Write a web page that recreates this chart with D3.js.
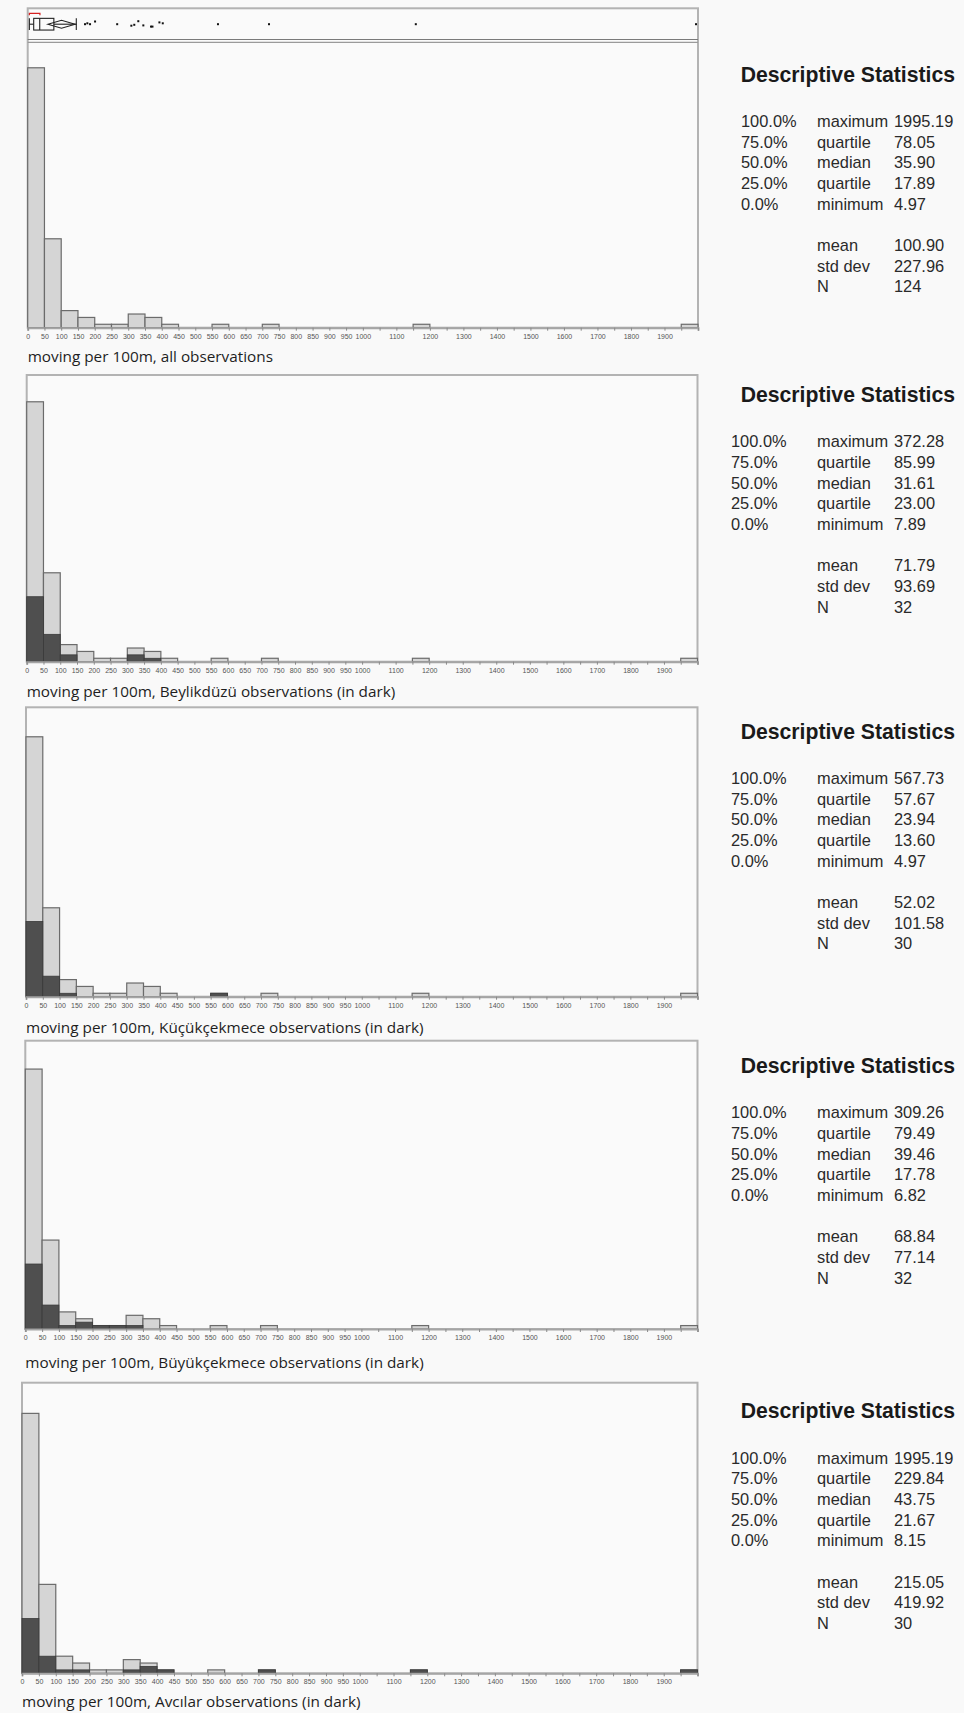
<!DOCTYPE html>
<html>
<head>
<meta charset="utf-8">
<script src="https://cdn.jsdelivr.net/npm/d3@7"></script>
<style>
  body { margin: 0; background: #f9f9f9; }
  svg { display: block; }
</style>
</head>
<body>
<svg id="chart"></svg>
<script>
// histogram bins (lower edge, width 50) that hold any observation
const binStart = [0, 50, 100, 150, 200, 250, 300, 350, 400, 550, 700, 1150, 1950]
const binWidth = 50
const allCounts = [76, 26, 5, 3, 1, 1, 4, 3, 1, 1, 1, 1, 1]
const beylikduzuCounts = [19, 8, 2, 0, 0, 0, 2, 1, 0, 0, 0, 0, 0]
const kucukcekmeceCounts = [22, 6, 1, 0, 0, 0, 0, 0, 0, 1, 0, 0, 0]
const buyukcekmeceCounts = [19, 7, 1, 2, 1, 1, 1, 0, 0, 0, 0, 0, 0]
const avcilarCounts = [16, 5, 1, 1, 0, 0, 1, 2, 1, 0, 1, 1, 1]

// axis ticks
const tickMarks = [0, 50, 100, 150, 200, 250, 300, 350, 400, 450, 500, 550, 600, 650, 700, 750, 800, 850, 900, 950,
  1000, 1050, 1100, 1150, 1200, 1250, 1300, 1350, 1400, 1450, 1500, 1550, 1600, 1650, 1700, 1750, 1800, 1850, 1900, 1950, 2000]
const tickLabels = [0, 50, 100, 150, 200, 250, 300, 350, 400, 450, 500, 550, 600, 650, 700, 750, 800, 850, 900, 950,
  1000, 1100, 1200, 1300, 1400, 1500, 1600, 1700, 1800, 1900]

// outlier box plot, all observations
const boxMin = 4.97, boxQ1 = 17.89, boxMedian = 35.90, boxQ3 = 78.05, boxUpperWhisker = 145
const meanDiamond = [60.4, 100.90, 141.4]
const shortestHalf = [4.97, 36.5]
const outliers = [171, 178, 186, 201, 267, 309.26, 318, 330, 345, 368, 372.28, 393, 403, 567.73, 720, 1158, 1995.19]
const outlierJitter = [0, -0.3, 0, -0.9, 0, 0.5, 0.2, -1, 0.4, 0.8, 0.8, -0.6, -0.3, 0, 0, 0, 0]

const titles = [
  'moving per 100m, all observations',
  'moving per 100m, Beylikdüzü observations (in dark)',
  'moving per 100m, Küçükçekmece observations (in dark)',
  'moving per 100m, Büyükçekmece observations (in dark)',
  'moving per 100m, Avcılar observations (in dark)'
]
const statLabels = ['maximum', 'quartile', 'median', 'quartile', 'minimum']
const statPercents = ['100.0%', '75.0%', '50.0%', '25.0%', '0.0%']
const quantiles = [
  ['1995.19', '78.05', '35.90', '17.89', '4.97'],
  ['372.28', '85.99', '31.61', '23.00', '7.89'],
  ['567.73', '57.67', '23.94', '13.60', '4.97'],
  ['309.26', '79.49', '39.46', '17.78', '6.82'],
  ['1995.19', '229.84', '43.75', '21.67', '8.15']
]
const moments = [
  ['100.90', '227.96', '124'],
  ['71.79', '93.69', '32'],
  ['52.02', '101.58', '30'],
  ['68.84', '77.14', '32'],
  ['215.05', '419.92', '30']
]
const momentLabels = ['mean', 'std dev', 'N']
const darkSeries = [null, beylikduzuCounts, kucukcekmeceCounts, buyukcekmeceCounts, avcilarCounts]

// layout of each panel
const layout = [
  { left: 27.7, right: 698, top: 8.3, base: 327.7, titleY: 356.3, headY: 74.3, pctX: 741 },
  { left: 26.7, right: 697.5, top: 375, base: 661.7, titleY: 691.9, headY: 394.6, pctX: 731 },
  { left: 26, right: 697.5, top: 707.3, base: 996.7, titleY: 1027.4, headY: 731.2, pctX: 731 },
  { left: 25.3, right: 697.5, top: 1040.7, base: 1329, titleY: 1363, headY: 1065.7, pctX: 731 },
  { left: 22, right: 697.5, top: 1382.7, base: 1673.3, titleY: 1701.8, headY: 1411, pctX: 731 }
]

let width = 964
let height = 1713
let pxPerCount = 3.42
let lightFill = '#d5d5d5'
let darkFill = '#4f4f4f'
let barStroke = '#6b6b6b'
let frameStroke = '#b3b3b3'

let svg = d3.select('#chart')
  .attr('width', width)
  .attr('height', height)

svg.append('rect')
  .attr('width', width)
  .attr('height', height)
  .attr('fill', '#f9f9f9')

layout.forEach((L, i) => {
  let g = svg.append('g').attr('class', 'panel')

  let x = d3.scaleLinear().domain([0, 2000]).range([L.left, L.right])
  let y = d3.scaleLinear().domain([0, 1]).range([L.base, L.base - pxPerCount])

  // frame
  g.append('rect')
    .attr('x', L.left)
    .attr('y', L.top)
    .attr('width', L.right - L.left)
    .attr('height', L.base - L.top)
    .attr('fill', '#fafafa')
    .attr('stroke', frameStroke)
    .attr('stroke-width', 2)

  // box plot strip on the first panel
  if (i == 0) {
    let cy = 24.2
    let bh = 11.7
    g.append('line')
      .attr('x1', L.left).attr('x2', L.right)
      .attr('y1', 39.5).attr('y2', 39.5)
      .attr('stroke', '#7a7a7a').attr('stroke-width', 1.2)
    g.append('line')
      .attr('x1', L.left).attr('x2', L.right)
      .attr('y1', 42.3).attr('y2', 42.3)
      .attr('stroke', '#9a9a9a').attr('stroke-width', 1.2)

    let bx = g.append('g').attr('class', 'boxplot')
      .attr('stroke', '#222').attr('fill', 'none').attr('stroke-width', 1.1)
    // whiskers
    bx.append('line').attr('x1', x(boxMin)).attr('x2', x(boxQ1)).attr('y1', cy).attr('y2', cy)
    bx.append('line').attr('x1', x(boxQ3)).attr('x2', x(boxUpperWhisker)).attr('y1', cy).attr('y2', cy)
    bx.append('line').attr('x1', x(boxMin)).attr('x2', x(boxMin)).attr('y1', cy - bh / 2).attr('y2', cy + bh / 2)
    bx.append('line').attr('x1', x(boxUpperWhisker)).attr('x2', x(boxUpperWhisker)).attr('y1', cy - bh / 2).attr('y2', cy + bh / 2)
    // box and median
    bx.append('rect')
      .attr('x', x(boxQ1)).attr('y', cy - bh / 2)
      .attr('width', x(boxQ3) - x(boxQ1)).attr('height', bh)
    bx.append('line').attr('x1', x(boxMedian)).attr('x2', x(boxMedian)).attr('y1', cy - bh / 2).attr('y2', cy + bh / 2)
    // mean diamond
    let dh = 4
    bx.append('path')
      .attr('d', 'M' + x(meanDiamond[0]) + ',' + cy +
        'L' + x(meanDiamond[1]) + ',' + (cy - dh) +
        'L' + x(meanDiamond[2]) + ',' + cy +
        'L' + x(meanDiamond[1]) + ',' + (cy + dh) + 'Z')
    // shortest half bracket
    let sy = 13.3
    g.append('path')
      .attr('d', 'M' + x(shortestHalf[0]) + ',' + (sy + 2) + 'V' + sy + 'H' + x(shortestHalf[1]) + 'V' + (sy + 2))
      .attr('fill', 'none').attr('stroke', '#d62020').attr('stroke-width', 1.2)
    // outliers
    g.selectAll('rect.outlier')
      .data(outliers)
      .enter().append('rect')
      .attr('class', 'outlier')
      .attr('x', d => Math.min(x(d), L.right - 2) - 1)
      .attr('y', (d, k) => cy - 1 + outlierJitter[k] * 3)
      .attr('width', 2)
      .attr('height', 2)
      .attr('fill', '#111')
  }

  // light bars (all observations)
  g.selectAll('rect.bar')
    .data(binStart.map((b, k) => ({ b: b, n: allCounts[k] })).filter(d => d.n > 0))
    .enter().append('rect')
    .attr('class', 'bar')
    .attr('x', d => x(d.b))
    .attr('y', d => y(d.n))
    .attr('width', d => x(d.b + binWidth) - x(d.b))
    .attr('height', d => y(0) - y(d.n))
    .attr('fill', lightFill)
    .attr('stroke', barStroke)
    .attr('stroke-width', 1.2)

  // dark bars (one region)
  if (darkSeries[i]) {
    g.selectAll('rect.dark')
      .data(binStart.map((b, k) => ({ b: b, n: darkSeries[i][k] })).filter(d => d.n > 0))
      .enter().append('rect')
      .attr('class', 'dark')
      .attr('x', d => x(d.b))
      .attr('y', d => y(d.n))
      .attr('width', d => x(d.b + binWidth) - x(d.b))
      .attr('height', d => y(0) - y(d.n))
      .attr('fill', darkFill)
      .attr('stroke', '#3a3a3a')
      .attr('stroke-width', 0.8)
  }

  // axis
  let labelSet = new Set(tickLabels)
  let axis = d3.axisBottom(x)
    .tickValues(tickMarks)
    .tickSize(3)
    .tickPadding(3)
    .tickFormat(d => labelSet.has(d) ? d : '')
  let ag = g.append('g')
    .attr('transform', 'translate(0,' + L.base + ')')
    .call(axis)
  ag.select('.domain').attr('stroke', '#a5a5a5').attr('stroke-width', 2)
  ag.selectAll('.tick line').attr('stroke', '#8a8a8a')
  ag.selectAll('.tick text')
    .attr('fill', '#555')
    .style('font-family', '"Liberation Sans", Arial, sans-serif')
    .style('font-size', '7px')

  // title under the axis
  g.append('text')
    .attr('x', L.left)
    .attr('y', L.titleY + 5.3)
    .attr('fill', '#1e1e1e')
    .style('font-family', '"Open Sans", sans-serif')
    .style('font-size', '15.3px')
    .text(titles[i])

  // statistics block
  let st = g.append('g')
    .style('font-family', '"Liberation Sans", Arial, sans-serif')
    .attr('fill', '#2a2a2a')
  st.append('text')
    .attr('x', 740.7)
    .attr('y', L.headY + 7.3)
    .style('font-size', '21.2px')
    .style('font-weight', 'bold')
    .attr('fill', '#1a1a1a')
    .text('Descriptive Statistics')

  let rowH = 20.7
  let fs = '16.4px'
  let firstRow = L.headY + 46.7 + 5.9
  statPercents.forEach((p, k) => {
    let ry = firstRow + k * rowH
    st.append('text').attr('x', L.pctX).attr('y', ry).style('font-size', fs).text(p)
    st.append('text').attr('x', 817).attr('y', ry).style('font-size', fs).text(statLabels[k])
    st.append('text').attr('x', 894).attr('y', ry).style('font-size', fs).text(quantiles[i][k])
  })
  momentLabels.forEach((m, k) => {
    let ry = L.headY + 170.7 + 5.9 + k * rowH
    st.append('text').attr('x', 817).attr('y', ry).style('font-size', fs).text(m)
    st.append('text').attr('x', 894).attr('y', ry).style('font-size', fs).text(moments[i][k])
  })
})
</script>
</body>
</html>
